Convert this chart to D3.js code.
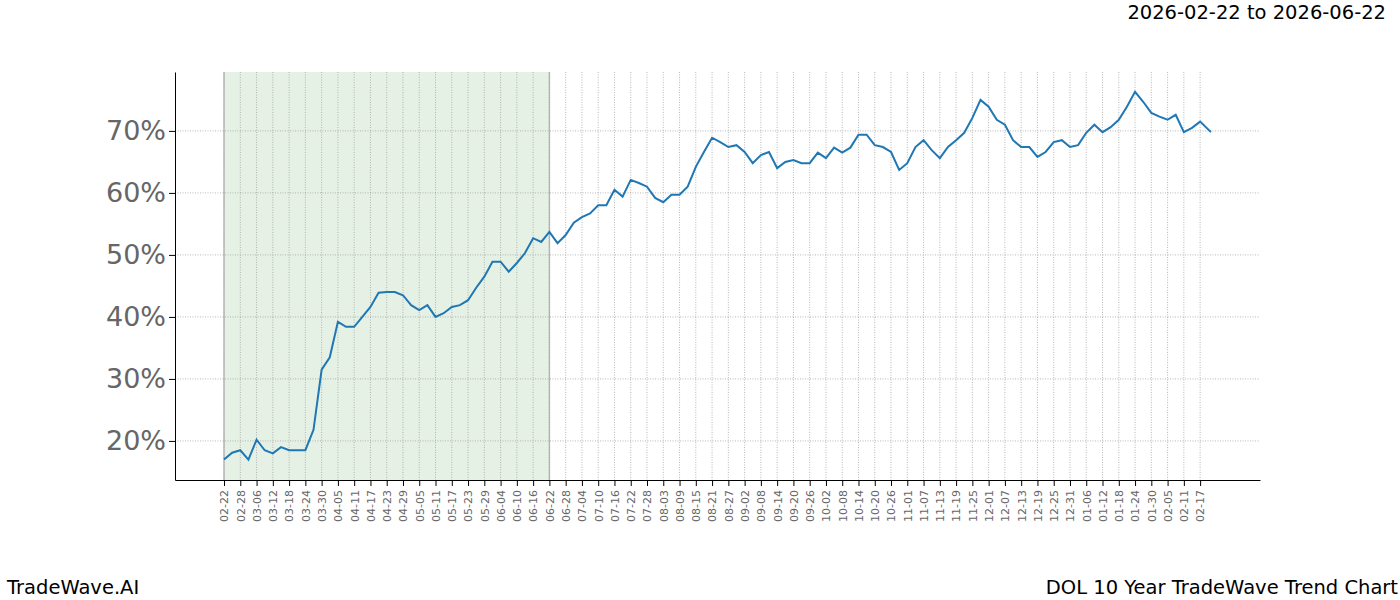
<!DOCTYPE html>
<html>
<head>
<meta charset="utf-8">
<script src="https://cdn.jsdelivr.net/npm/d3@7"></script>
<style>
  body { margin: 0; background: #fff; font-family: "DejaVu Sans", sans-serif; }
</style>
</head>
<body>
<div id="chart"></div>
<script>
// values, one every 3 days from 2026-02-22
const values = [17.0, 18.1, 18.5, 17.0, 20.2, 18.5, 18.0, 19.0, 18.5, 18.5,
  18.5, 21.8, 31.5, 33.5, 39.2, 38.4, 38.4, 40.0, 41.6, 43.9,
  44.0, 44.0, 43.5, 41.9, 41.1, 41.9, 40.0, 40.6, 41.6, 41.9,
  42.7, 44.7, 46.5, 48.9, 48.9, 47.3, 48.7, 50.3, 52.7, 52.1,
  53.7, 51.9, 53.2, 55.2, 56.1, 56.7, 58.0, 58.0, 60.5, 59.4,
  62.1, 61.6, 61.0, 59.2, 58.5, 59.7, 59.7, 61.0, 64.2, 66.6,
  68.9, 68.2, 67.4, 67.7, 66.6, 64.8, 66.1, 66.6, 64.0, 65.0,
  65.3, 64.8, 64.8, 66.5, 65.6, 67.3, 66.5, 67.3, 69.4, 69.4,
  67.7, 67.4, 66.6, 63.7, 64.8, 67.4, 68.5, 66.9, 65.6, 67.4,
  68.5, 69.7, 72.1, 75.0, 73.9, 71.8, 71.0, 68.5, 67.4, 67.4,
  65.8, 66.6, 68.2, 68.5, 67.4, 67.7, 69.7, 71.0, 69.8, 70.6,
  71.8, 73.9, 76.3, 74.7, 72.9, 72.3, 71.8, 72.6, 69.8, 70.5,
  71.5];
const lastValue = 69.8; // 2027-02-21
const yTicks = [20, 30, 40, 50, 60, 70];
const startDate = new Date(2026, 1, 22);
const shadeEnd = new Date(2026, 5, 22);

const data = values.map((v, i) => ({ date: d3.timeDay.offset(startDate, 3 * i), value: v }));
data.push({ date: new Date(2027, 1, 21), value: lastValue });
const xTicks = d3.range(61).map(i => d3.timeDay.offset(startDate, 6 * i));

const W = 1400, H = 600;
const mLeft = 175, mRight = 1260, mTop = 72, mBottom = 480;

const svg = d3.select('#chart').append('svg')
  .attr('width', W)
  .attr('height', H);

const x = d3.scaleTime()
  .domain([d3.timeHour.offset(startDate, -434), d3.timeHour.offset(new Date(2027, 2, 11), 2)])
  .range([mLeft, mRight]);
const y = d3.scaleLinear()
  .domain([13.7, 79.5])
  .range([mBottom, mTop]);

// shaded window
svg.append('rect')
  .attr('x', x(startDate))
  .attr('y', mTop)
  .attr('width', x(shadeEnd) - x(startDate))
  .attr('height', mBottom - mTop)
  .attr('fill', '#e6f1e6');
svg.selectAll('.edge').data([startDate, shadeEnd]).enter().append('line')
  .attr('x1', d => x(d)).attr('x2', d => x(d))
  .attr('y1', mTop).attr('y2', mBottom)
  .attr('stroke', '#bbb').attr('stroke-width', 1.5);

// grid
svg.selectAll('.vg').data(xTicks).enter().append('line')
  .attr('x1', d => x(d)).attr('x2', d => x(d))
  .attr('y1', mTop).attr('y2', mBottom)
  .attr('stroke', '#999').attr('stroke-width', 0.7)
  .attr('stroke-dasharray', '1,1.5');
svg.selectAll('.hg').data(yTicks).enter().append('line')
  .attr('x1', mLeft).attr('x2', mRight)
  .attr('y1', d => y(d)).attr('y2', d => y(d))
  .attr('stroke', '#999').attr('stroke-width', 0.7)
  .attr('stroke-dasharray', '1,1.5');

// line
svg.append('path')
  .datum(data)
  .attr('fill', 'none')
  .attr('stroke', '#1f77b4')
  .attr('stroke-width', 2)
  .attr('d', d3.line().x(d => x(d.date)).y(d => y(d.value)));

// axes
const xAxis = svg.append('g')
  .attr('transform', `translate(0,${mBottom})`)
  .call(d3.axisBottom(x).tickValues(xTicks).tickFormat(d3.timeFormat('%m-%d')).tickSizeOuter(0));
xAxis.selectAll('text')
  .attr('transform', 'translate(0,10) rotate(-90)')
  .attr('text-anchor', 'end')
  .attr('x', 0).attr('y', 0)
  .attr('dy', '0.35em')
  .style('font-size', '11px')
  .style('font-family', 'DejaVu Sans')
  .attr('fill', '#666');
xAxis.select('.domain').attr('stroke', '#000');

const yAxis = svg.append('g')
  .attr('transform', `translate(${mLeft},0)`)
  .call(d3.axisLeft(y).tickValues(yTicks).tickFormat(d => d + '%').tickSizeOuter(0));
yAxis.selectAll('text')
  .style('font-size', '27px')
  .style('font-family', 'DejaVu Sans')
  .attr('fill', '#666');

// texts
svg.append('text').attr('x', 1386).attr('y', 19).attr('text-anchor', 'end')
  .style('font-size', '19.5px').text('2026-02-22 to 2026-06-22');
svg.append('text').attr('x', 7).attr('y', 594)
  .style('font-size', '19.5px').text('TradeWave.AI');
svg.append('text').attr('x', 1398).attr('y', 594).attr('text-anchor', 'end')
  .style('font-size', '19.5px').text('DOL 10 Year TradeWave Trend Chart');
</script>
</body>
</html>
